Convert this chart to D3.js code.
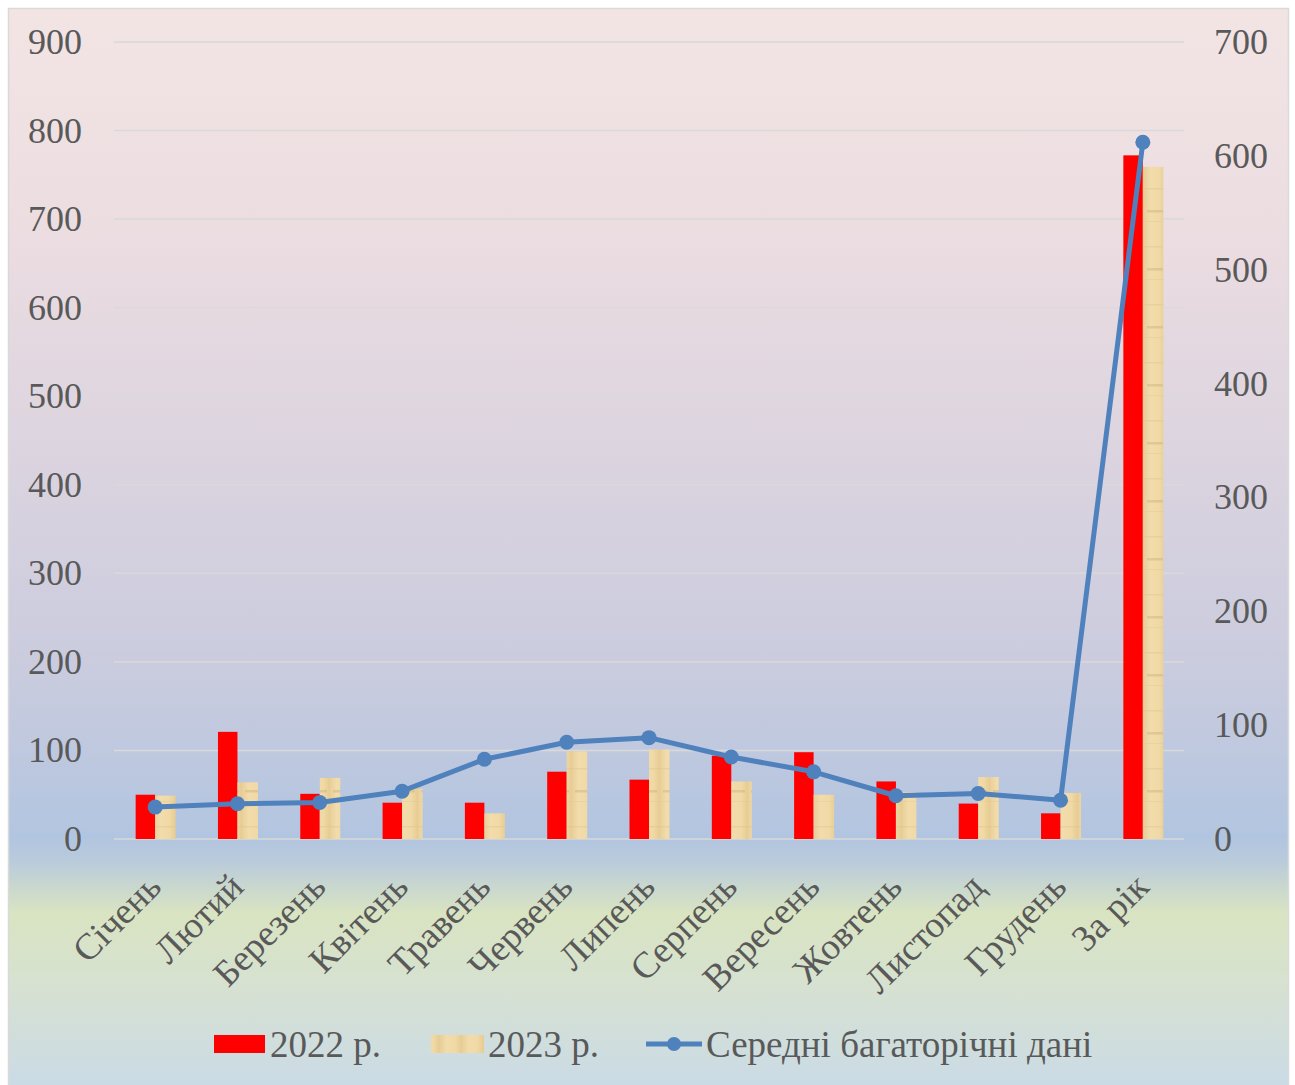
<!DOCTYPE html>
<html>
<head>
<meta charset="utf-8">
<script src="https://cdn.jsdelivr.net/npm/d3@7"></script>
<style>
html,body{margin:0;padding:0;background:#fff;}
svg{display:block;}
text{font-family:"Liberation Serif","Times New Roman",serif;fill:#595959;}
</style>
</head>
<body>
<svg id="chart" width="1295" height="1085"></svg>
<script>
const categories = ["Січень","Лютий","Березень","Квітень","Травень","Червень","Липень","Серпень","Вересень","Жовтень","Листопад","Грудень","За рік"];
const values2022 = [50,121,51,41,41,76,67,94,98,65,40,29,772];
const values2023 = [49,64,69,57,29,99,101,65,50,53,70,52,759];
const valuesAvg  = [28,31,32,42,70,85,89,72,59,38,40,34,612];
const leftTicks  = [0,100,200,300,400,500,600,700,800,900];
const rightTicks = [0,100,200,300,400,500,600,700];
const seriesNames = ["2022 р.","2023 р.","Середні багаторічні дані"];

const W = 1295, H = 1085;
const svg = d3.select("#chart");
const defs = svg.append("defs");

// background gradient
const bg = defs.append("linearGradient").attr("id","bgGrad")
  .attr("x1",0).attr("y1",0).attr("x2",0).attr("y2",1);
[[0,"#f3e4e4"],[0.2,"#ecdde1"],[0.45,"#d8d2df"],[0.62,"#c8cbde"],[0.76,"#b2c5e0"],[0.78,"#b8cadc"],[0.83,"#d9e4c2"],[0.9,"#d6e1d2"],[1,"#c9dae8"]]
  .forEach(([o,c])=>bg.append("stop").attr("offset",o).attr("stop-color",c));

// papyrus-like pattern for 2023
const pat = defs.append("pattern").attr("id","papyrus").attr("patternUnits","userSpaceOnUse")
  .attr("width",22).attr("height",58);
const pg = defs.append("linearGradient").attr("id","papGrad").attr("x1",0).attr("y1",0).attr("x2",1).attr("y2",0);
[[0,"#e8cf9a"],[0.3,"#f2dcab"],[0.7,"#f0d9a5"],[1,"#e6cb92"]].forEach(([o,c])=>pg.append("stop").attr("offset",o).attr("stop-color",c));
pat.append("rect").attr("width",22).attr("height",58).attr("fill","url(#papGrad)");
pat.append("rect").attr("y",14).attr("width",22).attr("height",1.5).attr("fill","#dcc08a").attr("opacity",0.4);
pat.append("rect").attr("x",3).attr("y",36).attr("width",16).attr("height",2.5).attr("fill","#cdb07a").attr("opacity",0.45);
pat.append("rect").attr("y",47).attr("width",22).attr("height",1).attr("fill","#e0c690").attr("opacity",0.4);

// chart area
svg.append("rect").attr("x",8.5).attr("y",8.5).attr("width",1280).attr("height",1090)
  .attr("fill","url(#bgGrad)").attr("stroke","#d9d9d9").attr("stroke-width",1.5);

const plotL = 114, plotR = 1184, plotT = 42, plotB = 839;
const x = d3.scaleBand().domain(categories).range([plotL, plotR]).paddingInner(0).paddingOuter(0);
const yL = d3.scaleLinear().domain([0,900]).range([plotB, plotT]);
const yR = d3.scaleLinear().domain([0,700]).range([plotB, plotT]);

// gridlines
svg.append("g").selectAll("line").data(leftTicks).join("line")
  .attr("x1",plotL).attr("x2",plotR)
  .attr("y1",d=>yL(d)).attr("y2",d=>yL(d))
  .attr("stroke","#d9d9d9").attr("stroke-width",1.5);

// left axis labels
const leftAxis = d3.axisLeft(yL).tickValues(leftTicks).tickSize(0).tickPadding(0);
const gL = svg.append("g").attr("transform",`translate(82,0)`).call(leftAxis);
gL.attr("font-family",null);
gL.select(".domain").remove();
gL.selectAll("text").style("font-size","36px").attr("fill","#595959")
  .style("font-family",'"Liberation Serif","Times New Roman",serif');

// right axis labels
const rightAxis = d3.axisRight(yR).tickValues(rightTicks).tickSize(0).tickPadding(0);
const gR = svg.append("g").attr("transform",`translate(1214,0)`).call(rightAxis);
gR.attr("font-family",null);
gR.select(".domain").remove();
gR.selectAll("text").style("font-size","36px").attr("fill","#595959")
  .style("font-family",'"Liberation Serif","Times New Roman",serif');

const bw = 19.5;
// bars 2022
svg.append("g").selectAll("rect").data(categories).join("rect")
  .attr("x",d=>x(d)+x.bandwidth()/2-bw)
  .attr("y",(d,i)=>yL(values2022[i]))
  .attr("width",bw)
  .attr("height",(d,i)=>yL(0)-yL(values2022[i]))
  .attr("fill","#ff0000");
// bars 2023
svg.append("g").selectAll("rect").data(categories).join("rect")
  .attr("x",d=>x(d)+x.bandwidth()/2)
  .attr("y",(d,i)=>yL(values2023[i]))
  .attr("width",bw+1)
  .attr("height",(d,i)=>yL(0)-yL(values2023[i]))
  .attr("fill","url(#papyrus)");

// line
const cx = d=>x(d)+x.bandwidth()/2;
const line = d3.line().x((d,i)=>cx(categories[i])).y(d=>yR(d));
svg.append("path").datum(valuesAvg).attr("d",line)
  .attr("fill","none").attr("stroke","#4f81bd").attr("stroke-width",5).attr("stroke-linejoin","round");
svg.append("g").selectAll("circle").data(valuesAvg).join("circle")
  .attr("cx",(d,i)=>cx(categories[i])).attr("cy",d=>yR(d)).attr("r",7.5)
  .attr("fill","#4f81bd");

// category labels
svg.append("g").selectAll("text").data(categories).join("text")
  .attr("transform",d=>`translate(${cx(d)+8},889) rotate(-45)`)
  .attr("text-anchor","end")
  .style("font-size","37px")
  .text(d=>d);

// legend
const lg = svg.append("g");
const ly = 1044;
lg.append("rect").attr("x",214).attr("y",ly-9).attr("width",51).attr("height",18).attr("fill","#ff0000");
lg.append("text").attr("x",270).attr("y",ly+13).style("font-size","37px").text(seriesNames[0]);
lg.append("rect").attr("x",431).attr("y",ly-9).attr("width",53).attr("height",18).attr("fill","url(#papyrus)");
lg.append("text").attr("x",488).attr("y",ly+13).style("font-size","37px").text(seriesNames[1]);
lg.append("line").attr("x1",646).attr("x2",702).attr("y1",ly).attr("y2",ly)
  .attr("stroke","#4f81bd").attr("stroke-width",5);
lg.append("circle").attr("cx",674).attr("cy",ly).attr("r",7).attr("fill","#4f81bd");
lg.append("text").attr("x",706).attr("y",ly+13).style("font-size","37px").text(seriesNames[2]);
</script>
</body>
</html>
